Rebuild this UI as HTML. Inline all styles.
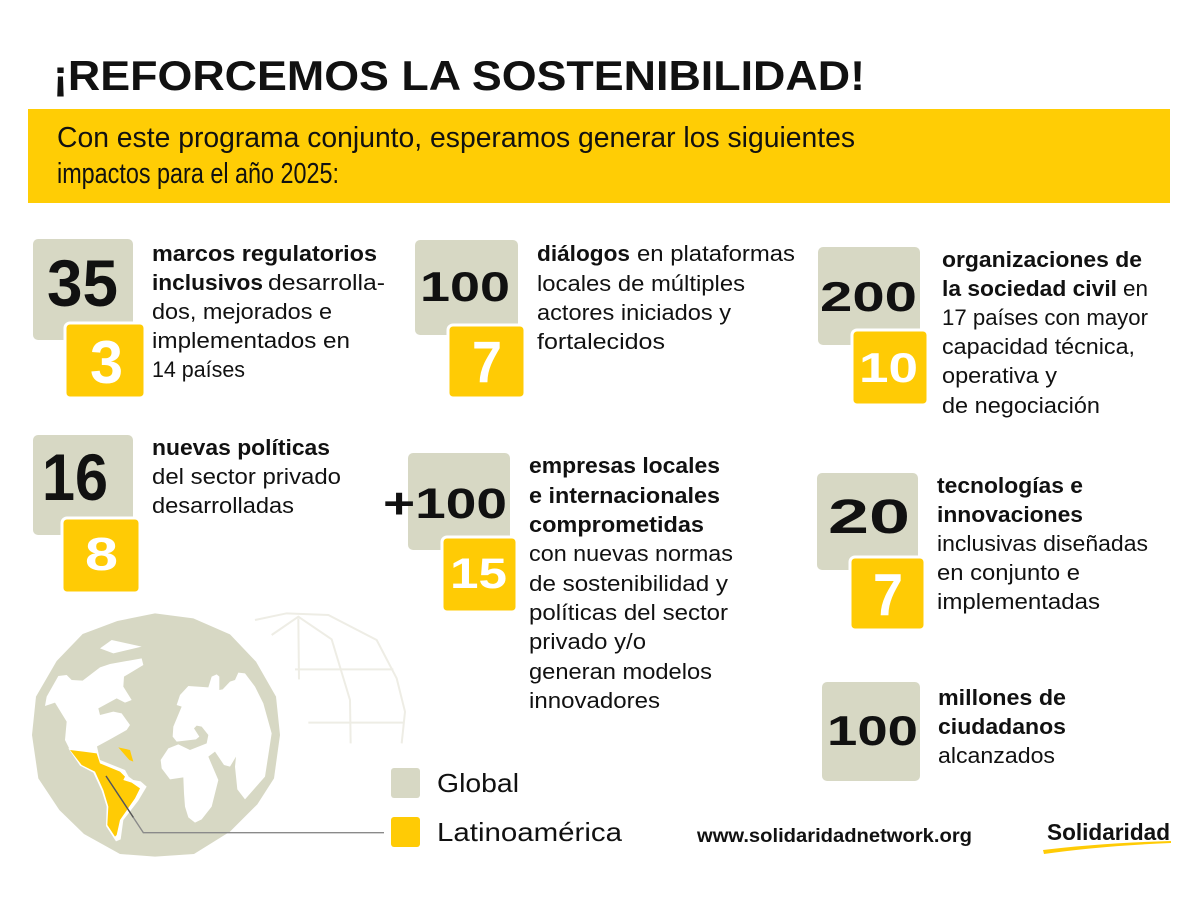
<!DOCTYPE html>
<html><head><meta charset="utf-8"><style>
html,body{margin:0;padding:0;background:#fff;}
svg{display:block;}
text{font-family:"Liberation Sans",sans-serif;}
.b{font-weight:700;}
.t{font-size:22px;fill:#111;}
.n{font-weight:700;fill:#111;}
.w{font-weight:700;fill:#fff;}
</style></head><body>
<svg width="1200" height="900" viewBox="0 0 1200 900" xmlns="http://www.w3.org/2000/svg">
<rect width="1200" height="900" fill="#fff"/>
<!-- Title -->
<text x="53" y="90" class="b" font-size="42" fill="#111" textLength="812" lengthAdjust="spacingAndGlyphs">¡REFORCEMOS LA SOSTENIBILIDAD!</text>
<rect x="28" y="109" width="1142" height="94" fill="#FFCD05"/>
<text x="57" y="147" font-size="29" fill="#111" textLength="798" lengthAdjust="spacingAndGlyphs">Con este programa conjunto, esperamos generar los siguientes</text>
<text x="57" y="183" font-size="29" fill="#111" textLength="282" lengthAdjust="spacingAndGlyphs">impactos para el año 2025:</text>

<!-- Block 1 -->
<rect x="33" y="239" width="100" height="101" rx="5" fill="#D7D8C4"/>
<rect x="65" y="323" width="80" height="75" rx="5" fill="#FFCB05" stroke="#fff" stroke-width="3"/>
<text x="47" y="306" class="n" font-size="66" textLength="71" lengthAdjust="spacingAndGlyphs">35</text>
<text x="90" y="383" class="w" font-size="60" textLength="33" lengthAdjust="spacingAndGlyphs">3</text>
<text x="152" y="261" class="t b" textLength="225" lengthAdjust="spacingAndGlyphs">marcos regulatorios</text>
<text x="152" y="290" class="t b" textLength="111" lengthAdjust="spacingAndGlyphs">inclusivos</text>
<text x="268" y="290" class="t" textLength="117" lengthAdjust="spacingAndGlyphs">desarrolla-</text>
<text x="152" y="319" class="t" textLength="180" lengthAdjust="spacingAndGlyphs">dos, mejorados e</text>
<text x="152" y="348" class="t" textLength="198" lengthAdjust="spacingAndGlyphs">implementados en</text>
<text x="152" y="377" class="t" textLength="93" lengthAdjust="spacingAndGlyphs">14 países</text>

<!-- Block 2 -->
<rect x="415" y="240" width="103" height="95" rx="5" fill="#D7D8C4"/>
<rect x="448" y="325" width="77" height="73" rx="5" fill="#FFCB05" stroke="#fff" stroke-width="3"/>
<text x="420" y="301" class="n" font-size="42" textLength="90" lengthAdjust="spacingAndGlyphs">100</text>
<text x="472" y="382" class="w" font-size="58" textLength="30" lengthAdjust="spacingAndGlyphs">7</text>
<text x="537" y="261" class="t b" textLength="93" lengthAdjust="spacingAndGlyphs">diálogos</text>
<text x="637" y="261" class="t" textLength="158" lengthAdjust="spacingAndGlyphs">en plataformas</text>
<text x="537" y="291" class="t" textLength="208" lengthAdjust="spacingAndGlyphs">locales de múltiples</text>
<text x="537" y="320" class="t" textLength="194" lengthAdjust="spacingAndGlyphs">actores iniciados y</text>
<text x="537" y="349" class="t" textLength="128" lengthAdjust="spacingAndGlyphs">fortalecidos</text>

<!-- Block 3 -->
<rect x="818" y="247" width="102" height="98" rx="5" fill="#D7D8C4"/>
<rect x="852" y="330" width="76" height="75" rx="5" fill="#FFCB05" stroke="#fff" stroke-width="3"/>
<text x="820" y="311" class="n" font-size="42" textLength="97" lengthAdjust="spacingAndGlyphs">200</text>
<text x="859" y="382" class="w" font-size="42" textLength="59" lengthAdjust="spacingAndGlyphs">10</text>
<text x="942" y="267" class="t b" textLength="200" lengthAdjust="spacingAndGlyphs">organizaciones de</text>
<text x="942" y="296" class="t b" textLength="175" lengthAdjust="spacingAndGlyphs">la sociedad civil</text>
<text x="1123" y="296" class="t" textLength="25" lengthAdjust="spacingAndGlyphs">en</text>
<text x="942" y="325" class="t" textLength="206" lengthAdjust="spacingAndGlyphs">17 países con mayor</text>
<text x="942" y="354" class="t" textLength="193" lengthAdjust="spacingAndGlyphs">capacidad técnica,</text>
<text x="942" y="383" class="t" textLength="115" lengthAdjust="spacingAndGlyphs">operativa y</text>
<text x="942" y="413" class="t" textLength="158" lengthAdjust="spacingAndGlyphs">de negociación</text>

<!-- Block 4 -->
<rect x="33" y="435" width="100" height="100" rx="5" fill="#D7D8C4"/>
<rect x="62" y="518" width="78" height="75" rx="5" fill="#FFCB05" stroke="#fff" stroke-width="3"/>
<text x="42" y="500" class="n" font-size="66" textLength="66" lengthAdjust="spacingAndGlyphs">16</text>
<text x="85" y="570" class="w" font-size="46" textLength="33" lengthAdjust="spacingAndGlyphs">8</text>
<text x="152" y="455" class="t b" textLength="178" lengthAdjust="spacingAndGlyphs">nuevas políticas</text>
<text x="152" y="484" class="t" textLength="189" lengthAdjust="spacingAndGlyphs">del sector privado</text>
<text x="152" y="513" class="t" textLength="142" lengthAdjust="spacingAndGlyphs">desarrolladas</text>

<!-- Block 5 -->
<rect x="408" y="453" width="102" height="97" rx="5" fill="#D7D8C4"/>
<rect x="442" y="537" width="75" height="75" rx="5" fill="#FFCB05" stroke="#fff" stroke-width="3"/>
<text x="383" y="518" class="n" font-size="43" textLength="124" lengthAdjust="spacingAndGlyphs">+100</text>
<text x="450" y="588" class="w" font-size="43" textLength="57" lengthAdjust="spacingAndGlyphs">15</text>
<text x="529" y="473" class="t b" textLength="191" lengthAdjust="spacingAndGlyphs">empresas locales</text>
<text x="529" y="503" class="t b" textLength="191" lengthAdjust="spacingAndGlyphs">e internacionales</text>
<text x="529" y="532" class="t b" textLength="175" lengthAdjust="spacingAndGlyphs">comprometidas</text>
<text x="529" y="561" class="t" textLength="204" lengthAdjust="spacingAndGlyphs">con nuevas normas</text>
<text x="529" y="591" class="t" textLength="199" lengthAdjust="spacingAndGlyphs">de sostenibilidad y</text>
<text x="529" y="620" class="t" textLength="199" lengthAdjust="spacingAndGlyphs">políticas del sector</text>
<text x="529" y="649" class="t" textLength="117" lengthAdjust="spacingAndGlyphs">privado y/o</text>
<text x="529" y="679" class="t" textLength="183" lengthAdjust="spacingAndGlyphs">generan modelos</text>
<text x="529" y="708" class="t" textLength="131" lengthAdjust="spacingAndGlyphs">innovadores</text>

<!-- Block 6 -->
<rect x="817" y="473" width="101" height="97" rx="5" fill="#D7D8C4"/>
<rect x="850" y="557" width="75" height="73" rx="5" fill="#FFCB05" stroke="#fff" stroke-width="3"/>
<text x="828" y="533" class="n" font-size="48" textLength="82" lengthAdjust="spacingAndGlyphs">20</text>
<text x="873" y="615" class="w" font-size="59" textLength="30" lengthAdjust="spacingAndGlyphs">7</text>
<text x="937" y="493" class="t b" textLength="146" lengthAdjust="spacingAndGlyphs">tecnologías e</text>
<text x="937" y="522" class="t b" textLength="146" lengthAdjust="spacingAndGlyphs">innovaciones</text>
<text x="937" y="551" class="t" textLength="211" lengthAdjust="spacingAndGlyphs">inclusivas diseñadas</text>
<text x="937" y="580" class="t" textLength="143" lengthAdjust="spacingAndGlyphs">en conjunto e</text>
<text x="937" y="609" class="t" textLength="163" lengthAdjust="spacingAndGlyphs">implementadas</text>

<!-- Block 7 -->
<rect x="822" y="682" width="98" height="99" rx="5" fill="#D7D8C4"/>
<text x="827" y="745" class="n" font-size="42" textLength="91" lengthAdjust="spacingAndGlyphs">100</text>
<text x="938" y="705" class="t b" textLength="128" lengthAdjust="spacingAndGlyphs">millones de</text>
<text x="938" y="734" class="t b" textLength="128" lengthAdjust="spacingAndGlyphs">ciudadanos</text>
<text x="938" y="763" class="t" textLength="117" lengthAdjust="spacingAndGlyphs">alcanzados</text>

<!-- Globe -->
<g transform="translate(0,580) scale(0.333333)">
  <g fill="none" stroke="#EEEDE5" stroke-width="6">
    <polyline points="765,120 860,100 985,105 1130,180 1190,295 1215,395 1205,490"/>
    <polyline points="815,165 895,110 995,178 1050,360 1052,490"/>
    <polyline points="895,115 897,298"/>
    <polyline points="885,268 1180,268"/>
    <polyline points="925,428 1210,428"/>
  </g>
  <polygon fill="#D7D8C4" points="465,100 580,115 690,163 768,245 828,350 840,465 822,595 772,673 690,755 582,822 465,830 360,822 252,762 178,690 115,595 96,465 108,350 170,243 248,162 352,123"/>
  <g fill="#fff">
    <polygon points="300,205 335,180 425,200 340,220"/>
    <polygon points="135,378 140,350 175,288 200,285 215,300 248,302 300,262 330,252 425,235 430,255 372,290 370,320 395,360 375,368 350,355 295,385 300,405 340,395 365,400 390,435 380,450 330,478 290,500 295,520 250,515 210,510 195,480 200,425 165,368"/>
    <polygon points="205,505 290,495 300,540 375,570 386,590 400,600 422,604 440,620 415,662 370,720 362,778 348,784 318,738 320,680 305,632 280,578 240,557"/>
    <polygon points="530,375 540,345 565,318 625,322 635,290 650,283 658,290 658,330 668,328 690,305 705,300 715,278 735,280 765,320 790,370 815,460 795,590 735,658 712,628 705,560 708,530 690,560 672,555 645,515 625,530 655,600 635,680 605,718 585,728 565,712 555,680 552,640 550,592 510,598 485,565 482,540 505,505 535,493 570,510 620,490 625,465 605,440 590,437 582,445 598,470 588,478 530,485 518,470 520,440 545,380"/>
  </g>
  <polygon fill="#FFCB05" points="210,510 250,515 290,520 300,550 360,575 375,590 370,600 395,608 420,625 405,655 360,720 350,765 345,770 322,735 325,680 310,630 285,575 245,555"/>
  <polygon fill="#FFCB05" points="355,502 390,510 395,528 400,545 388,540"/>
  <polyline points="318,588 430,758 1152,758" fill="none" stroke="#8a8a8a" stroke-width="4"/>
  <polyline points="318,588 400,712" fill="none" stroke="#555" stroke-width="4"/>
</g>

<!-- Legend -->
<rect x="391" y="768" width="29" height="30" rx="3" fill="#D7D8C4"/>
<rect x="391" y="817" width="29" height="30" rx="3" fill="#FFCB05"/>
<text x="437" y="792" font-size="26" fill="#111" textLength="82" lengthAdjust="spacingAndGlyphs">Global</text>
<text x="437" y="841" font-size="26" fill="#111" textLength="185" lengthAdjust="spacingAndGlyphs">Latinoamérica</text>

<!-- Footer -->
<text x="697" y="842" class="b" font-size="19" fill="#111" textLength="275" lengthAdjust="spacingAndGlyphs">www.solidaridadnetwork.org</text>
<text x="1047" y="840" class="b" font-size="23" fill="#111" textLength="123" lengthAdjust="spacingAndGlyphs">Solidaridad</text>
<path d="M1043,850 Q1100,843 1171,841 L1171,843 Q1100,846 1044,854 Z" fill="#FFCB05"/>
</svg>
</body></html>
